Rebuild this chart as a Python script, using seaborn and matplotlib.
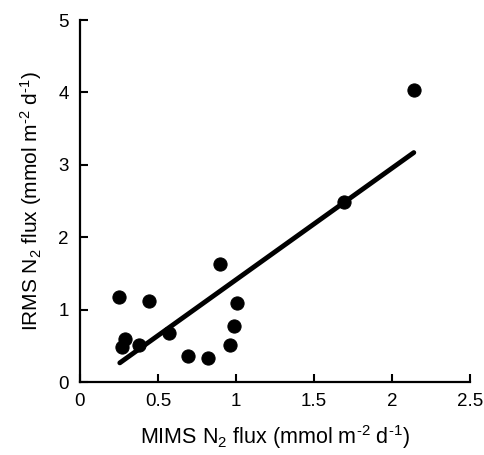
import numpy as np
import pandas as pd
import seaborn as sns
from matplotlib import pyplot as plt

# Данные
mims = [0.25, 0.27, 0.29, 0.38, 0.44, 0.57, 0.69, 0.82, 0.90, 0.96, 0.99, 1.01, 1.69, 2.14]
irms = [1.18, 0.49, 0.60, 0.52, 1.12, 0.68, 0.36, 0.34, 1.63, 0.51, 0.78, 1.10, 2.49, 4.04]
fit_x = [0.256, 2.14]
fit_y = [0.267, 3.17]
x_ticks = [0, 0.5, 1, 1.5, 2, 2.5]
x_tick_labels = ['0', '0.5', '1', '1.5', '2', '2.5']
y_ticks = [0, 1, 2, 3, 4, 5]

sns.set_theme(style="ticks")
plt.rcParams['font.family'] = ['Liberation Sans', 'DejaVu Sans']
plt.rcParams['mathtext.fontset'] = 'custom'
plt.rcParams['mathtext.rm'] = 'Liberation Sans'
plt.rcParams['mathtext.it'] = 'Liberation Sans'
plt.rcParams['text.color'] = 'black'
plt.rcParams['axes.labelcolor'] = 'black'

df = pd.DataFrame({'mims': mims, 'irms': irms})
fit = pd.DataFrame({'x': fit_x, 'y': fit_y})

fig = plt.figure(figsize=(4.84, 4.55), dpi=100)
ax = fig.add_axes([0.165, 0.16, 0.806, 0.796])

sns.lineplot(data=fit, x='x', y='y', color='black', linewidth=3.5, ax=ax)
sns.scatterplot(data=df, x='mims', y='irms', color='black', s=90, edgecolor='black', ax=ax, zorder=3)

ax.set_xlim(0, 2.5)
ax.set_ylim(0, 5)
ax.set_xticks(x_ticks)
ax.set_xticklabels(x_tick_labels)
ax.set_yticks(y_ticks)
ax.tick_params(direction='in', length=6, width=1.5, labelsize=13.5, colors='black', pad=8)
for side in ['left', 'bottom']:
    ax.spines[side].set_linewidth(1.6)
    ax.spines[side].set_color('black')
sns.despine(ax=ax)

ax.set_xlabel('MIMS N$_2$ flux (mmol m$^{\u2010 2}$ d$^{\u2010 1}$)', fontsize=15.5, labelpad=9)
ax.set_ylabel('IRMS N$_2$ flux (mmol m$^{\u2010 2}$ d$^{\u2010 1}$)', fontsize=15, labelpad=10)

fig.savefig('out.png', dpi=100)
